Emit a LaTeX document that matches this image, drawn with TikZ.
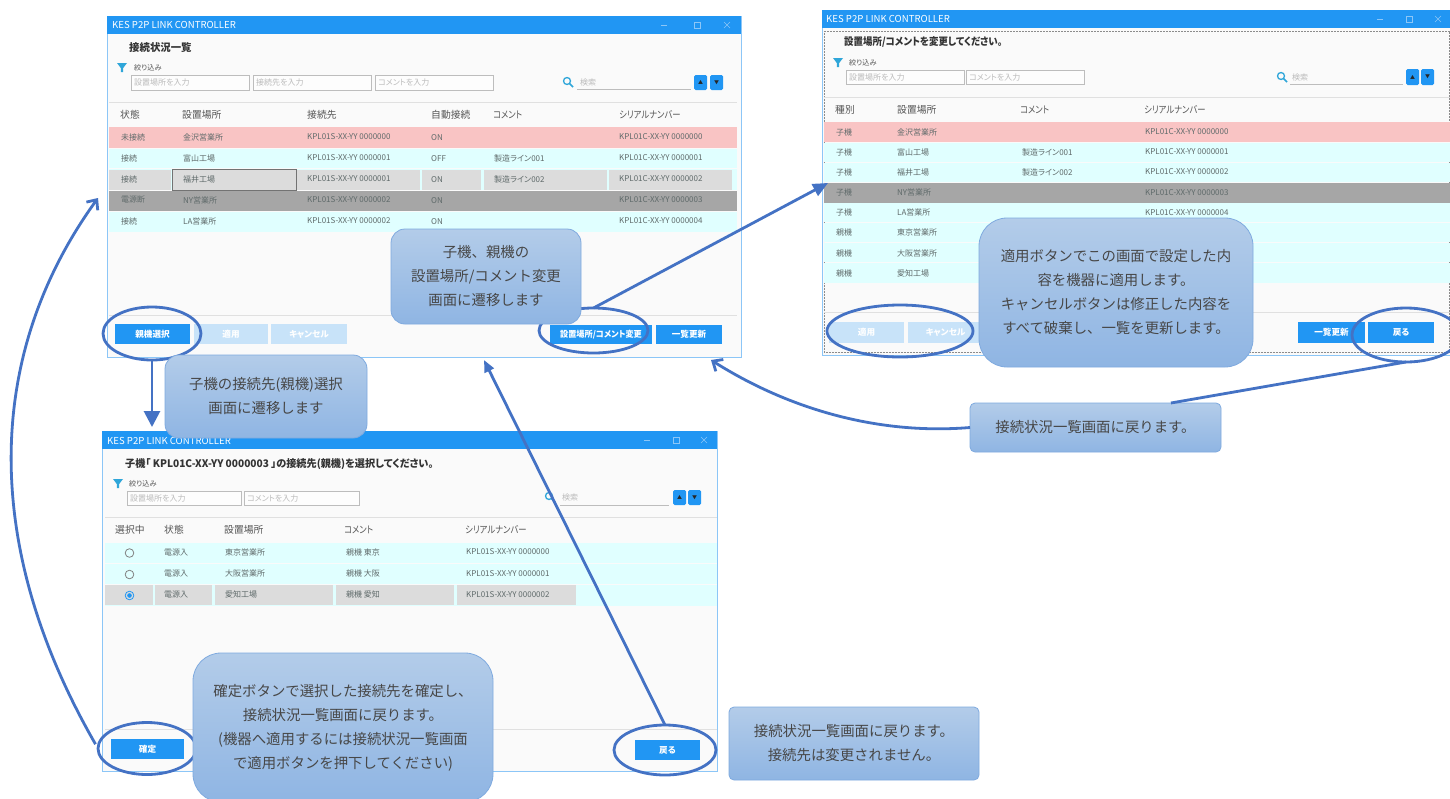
\documentclass[tikz,border=0pt]{standalone}
\usepackage{fontspec}
\setmainfont{Noto Sans CJK JP}
\newfontfamily\uif[RawFeature=+palt]{Noto Sans CJK JP}
\usetikzlibrary{shapes.geometric,arrows.meta}
\definecolor{barblue}{HTML}{2196F3}
\definecolor{winedge}{HTML}{8CC6F7}
\definecolor{winbg}{HTML}{FAFAFA}
\definecolor{rowred}{HTML}{F9C4C4}
\definecolor{rowcyan}{HTML}{E0FFFF}
\definecolor{rowgray}{HTML}{A6A6A6}
\definecolor{cellgray}{HTML}{DCDCDC}
\definecolor{disbtn}{HTML}{C8E3F9}
\definecolor{linkblue}{HTML}{4472C4}
\definecolor{calltop}{HTML}{B3CCE9}
\definecolor{callbot}{HTML}{8FB5E3}
\definecolor{calledge}{HTML}{7FAADF}
\definecolor{txtgray}{HTML}{5F6A6A}
\definecolor{hdrgray}{HTML}{555555}
\definecolor{hintgray}{HTML}{BBBBBB}
\definecolor{inputedge}{HTML}{BDBDBD}
\definecolor{iconblue}{HTML}{2FA6D9}
\newcounter{tn}
\newcommand{\kn}[1]{\scalebox{.85}[1]{#1}}
\newcommand{\tx}[4][celltext]{\stepcounter{tn}\node[#1,anchor=west] (t\arabic{tn}) at ({#2},{#3}) {#4};}
\newcommand{\btn}[6][btnon]{\stepcounter{tn}\node[#1,minimum width={(#4-#2)*1pt},minimum height={(#5-#3)*1pt}] (b\arabic{tn}) at ({(#2+#4)/2},{(#3+#5)/2}) {#6};}
\newcommand{\inp}[5]{\stepcounter{tn}\node[inputbox,minimum width={(#3-#1)*1pt},minimum height={(#4-#2)*1pt}] (i\arabic{tn}) at ({(#1+#3)/2},{(#2+#4)/2}) {};\tx[hinttext]{#1+3}{(#2+#4)/2}{#5}}
\newcommand{\wctl}[3]{\draw[ctl] (#1-3,#3) -- (#1+3,#3);\draw[ctl] (#2-3,#3-3) rectangle (#2+3,#3+3);}
\newcommand{\wclose}[2]{\draw[ctl] (#1-3,#2-3) -- (#1+3,#2+3) (#1-3,#2+3) -- (#1+3,#2-3);}
\newcommand{\funnel}[2]{\fill[iconblue] (#1-5,#2-4) -- (#1+5,#2-4) -- (#1+1.2,#2+1) -- (#1+1.2,#2+5) -- (#1-1.2,#2+5) -- (#1-1.2,#2+1) -- cycle;}
\newcommand{\lens}[2]{\draw[iconblue,line width=1.3pt] (#1-1,#2-1) circle[radius=3.5];\draw[iconblue,line width=1.6pt] (#1+1.6,#2+1.6) -- (#1+5,#2+5);}
\newcommand{\updown}[4]{\btn[btnsmall]{#1}{#3}{#1+13}{#4}{▲}\btn[btnsmall]{#2}{#3}{#2+13}{#4}{▼}}
\tikzset{
  x=1pt,y=-1pt,
  winbox/.style={draw=winedge,fill=winbg,line width=0.9pt,inner sep=0,outer sep=0},
  celltext/.style={font=\uif\fontsize{8}{9}\selectfont,text=txtgray,inner sep=0},
  hdrtext/.style={font=\uif\fontsize{9.8}{11}\selectfont,text=hdrgray,inner sep=0},
  hinttext/.style={font=\uif\fontsize{8}{9}\selectfont,text=hintgray,inner sep=0},
  smalltext/.style={font=\uif\fontsize{7.2}{9}\selectfont,text=hdrgray,inner sep=0},
  titletext/.style={font=\uif\fontsize{10.4}{12}\selectfont\bfseries,text=black!80,inner sep=0},
  bartext/.style={font=\fontsize{9.6}{10}\selectfont,text=white,inner sep=0},
  btnon/.style={fill=barblue,text=white,font=\uif\fontsize{8.6}{9}\selectfont\bfseries,inner sep=0,outer sep=0},
  btnoff/.style={fill=disbtn,text=white,font=\uif\fontsize{8.6}{9}\selectfont\bfseries,inner sep=0,outer sep=0},
  btnsmall/.style={fill=barblue,text=black!85,rounded corners=1.5pt,font=\fontsize{5}{5}\selectfont,inner sep=0,outer sep=0},
  inputbox/.style={draw=inputedge,line width=0.9pt,fill=white!60!winbg,inner sep=0,outer sep=0},
  ctl/.style={draw=winedge,line width=0.6pt},
  sep/.style={draw=black!12,line width=1pt},
  ring/.style={ellipse,draw=linkblue,line width=2.8pt,inner sep=0,outer sep=0,fill=none},
  link/.style={draw=linkblue,line width=2.8pt},
  solidhead/.style={link,-{Triangle[length=#1,width=#1]}},
  openhead/.style={link,-{Straight Barb[length=8pt,width=14pt]}},
  callout/.style={draw=calledge,line width=0.8pt,top color=calltop,bottom color=callbot,align=center,inner sep=0,outer sep=0,text=black!72,font=\fontsize{14.4}{24}\selectfont},
}
\begin{document}
\begin{tikzpicture}
\useasboundingbox (0,0) rectangle (1450,798);
\clip (0,0) rectangle (1450,798);
\fill[white] (0,0) rectangle (1450,798);
% ===== window 1 =====
\node[winbox,minimum width=634pt,minimum height=341pt] (w1) at (424,186.5) {};
\fill[barblue] (107,16) rectangle (741,34);
\tx[bartext]{112}{25}{KES P2P LINK CONTROLLER}
\wctl{664}{697}{25}\wclose{727}{25}
\tx[titletext]{129}{48}{接続状況一覧}
\funnel{122}{67}
\tx[smalltext]{134}{68}{絞り込み}
\inp{131}{75}{249}{90}{設置場所を入力}
\inp{253}{75}{371}{90}{接続先を入力}
\inp{375}{75}{493}{90}{コメントを入力}
\lens{568}{82}
\tx[hinttext]{580}{82}{検索}
\draw[inputedge,line width=0.9pt] (577,89.5) -- (691,89.5);
\updown{694}{710}{75}{90}
\draw[sep] (109,102) -- (737,102);
\tx[hdrtext]{120}{114.5}{状態}\tx[hdrtext]{182}{114.5}{設置場所}\tx[hdrtext]{307}{114.5}{接続先}\tx[hdrtext]{431}{114.5}{自動接続}\tx[hdrtext]{493}{114.5}{\kn{コメント}}\tx[hdrtext]{619}{114.5}{\kn{シリアルナンバー}}
\fill[rowred] (109,127) rectangle (737,148);
\fill[rowcyan] (109,149) rectangle (737,168);
\fill[rowcyan] (109,169) rectangle (737,190);
\fill[rowgray] (109,191) rectangle (737,211);
\fill[rowcyan] (109,212) rectangle (737,232);
\fill[cellgray] (109,170) rectangle (171,190);
\fill[cellgray] (172,170) rectangle (296,190);
\draw[black!55,line width=0.7pt] (172,169.5) rectangle (296,190);
\fill[cellgray] (297,170) rectangle (420,190);
\fill[cellgray] (422,170) rectangle (481,190);
\fill[cellgray] (484,170) rectangle (607,190);
\fill[cellgray] (609,170) rectangle (732,190);
\tx{121}{137}{未接続}\tx{183}{137}{金沢営業所}\tx{307}{137}{KPL01S-XX-YY 0000000}\tx{431}{137.5}{ON}\tx{619}{137}{KPL01C-XX-YY 0000000}
\tx{121}{158}{接続}\tx{183}{158}{富山工場}\tx{307}{158}{KPL01S-XX-YY 0000001}\tx{431}{158.5}{OFF}\tx{494}{158}{製造ライン001}\tx{619}{158}{KPL01C-XX-YY 0000001}
\tx{121}{179}{接続}\tx{183}{179}{福井工場}\tx{307}{179}{KPL01S-XX-YY 0000001}\tx{431}{179.5}{ON}\tx{494}{179}{製造ライン002}\tx{619}{179}{KPL01C-XX-YY 0000002}
\tx{121}{200}{電源断}\tx{183}{200}{NY営業所}\tx{307}{200}{KPL01S-XX-YY 0000002}\tx{431}{200.5}{ON}\tx{619}{200}{KPL01C-XX-YY 0000003}
\tx{121}{221}{接続}\tx{183}{221}{LA営業所}\tx{307}{221}{KPL01S-XX-YY 0000002}\tx{431}{221.5}{ON}\tx{619}{221}{KPL01C-XX-YY 0000004}
\draw[sep] (109,315) -- (737,315);
\btn{115}{324}{190}{344}{親機選択}
\btn[btnoff]{194}{324}{268}{344}{適用}
\btn[btnoff]{271}{324}{347}{344}{キャンセル}
\btn{550}{325}{652}{344}{\scalebox{.95}[1]{設置場所/コメント変更}}
\btn{656}{325}{722}{344}{一覧更新}
% ===== window 2 =====
\node[winbox,minimum width=628pt,minimum height=345pt] (w2) at (1136,182.5) {};
\fill[barblue] (822,10) rectangle (1450,28);
\tx[bartext]{826}{18.5}{KES P2P LINK CONTROLLER}
\wctl{1380}{1409}{19}\wclose{1438}{19}
\draw[black!45,line width=0.5pt,densely dotted] (824,31) rectangle (1449.5,352);
\tx[titletext]{844}{42.5}{\scalebox{.91}[1]{設置場所/コメントを変更してください。}}
\funnel{838}{62}
\tx[smalltext]{849}{62.5}{絞り込み}
\inp{846}{70}{964}{84.5}{設置場所を入力}
\inp{966}{70}{1084}{84.5}{コメントを入力}
\lens{1282}{77}
\tx[hinttext]{1292}{77}{検索}
\draw[inputedge,line width=0.9pt] (1290,84.5) -- (1403,84.5);
\updown{1406}{1421}{69}{85}
\draw[sep] (824,97) -- (1450,97);
\tx[hdrtext]{835}{110}{種別}\tx[hdrtext]{897}{110}{設置場所}\tx[hdrtext]{1020}{110}{\kn{コメント}}\tx[hdrtext]{1144}{110}{\kn{シリアルナンバー}}
\fill[rowred] (824,122) rectangle (1450,142);
\fill[rowcyan] (824,143) rectangle (1450,162);
\fill[rowcyan] (824,163) rectangle (1450,182);
\fill[rowgray] (824,183) rectangle (1450,202.5);
\fill[rowcyan] (824,203) rectangle (1450,222);
\fill[rowcyan] (824,223) rectangle (1450,242);
\fill[rowcyan] (824,243) rectangle (1450,262);
\fill[rowcyan] (824,263) rectangle (1450,283);
\tx{836}{132}{子機}\tx{897}{132}{金沢営業所}\tx{1145}{132}{KPL01C-XX-YY 0000000}
\tx{836}{152}{子機}\tx{897}{152}{富山工場}\tx{1022}{152}{製造ライン001}\tx{1145}{152}{KPL01C-XX-YY 0000001}
\tx{836}{172}{子機}\tx{897}{172}{福井工場}\tx{1022}{172}{製造ライン002}\tx{1145}{172}{KPL01C-XX-YY 0000002}
\tx{836}{192.5}{子機}\tx{897}{192.5}{NY営業所}\tx{1145}{192.5}{KPL01C-XX-YY 0000003}
\tx{836}{212.5}{子機}\tx{897}{212.5}{LA営業所}\tx{1145}{212.5}{KPL01C-XX-YY 0000004}
\tx{836}{232.5}{親機}\tx{897}{232.5}{東京営業所}
\tx{836}{253}{親機}\tx{897}{253}{大阪営業所}
\tx{836}{273}{親機}\tx{897}{273}{愛知工場}
\draw[sep] (824,312) -- (1450,312);
\btn[btnoff]{829}{322}{904}{343}{適用}
\btn[btnoff]{908}{322}{983}{343}{キャンセル}
\btn{1298}{322}{1365}{343}{一覧更新}
\btn{1368}{322}{1434}{343}{戻る}
% ===== window 3 =====
\node[winbox,minimum width=615pt,minimum height=340pt] (w3) at (409.5,601) {};
\fill[barblue] (102,431) rectangle (717,449);
\tx[bartext]{107}{440.5}{KES P2P LINK CONTROLLER}
\wctl{647}{676}{440}\wclose{704}{440}
\tx[titletext]{125}{464}{\scalebox{.975}[1]{子機「 KPL01C-XX-YY 0000003 」の接続先(親機)を選択してください。}}
\funnel{118}{483}
\tx[smalltext]{129}{483.5}{絞り込み}
\inp{127}{491}{241}{505}{設置場所を入力}
\inp{244}{491}{359}{505}{コメントを入力}
\lens{550}{497}
\tx[hinttext]{562}{497}{検索}
\draw[inputedge,line width=0.9pt] (560,505) -- (669,505);
\updown{673}{688}{490}{505}
\draw[sep] (105,517) -- (717,517);
\tx[hdrtext]{115}{530}{選択中}\tx[hdrtext]{164}{530}{状態}\tx[hdrtext]{224}{530}{設置場所}\tx[hdrtext]{344}{530}{\kn{コメント}}\tx[hdrtext]{465}{530}{\kn{シリアルナンバー}}
\fill[rowcyan] (105,543) rectangle (717,563);
\fill[rowcyan] (105,564) rectangle (717,584);
\fill[rowcyan] (105,585) rectangle (717,606);
\fill[cellgray] (105,585) rectangle (153,605);
\fill[cellgray] (155,585) rectangle (212,605);
\fill[cellgray] (215,585) rectangle (333,605);
\fill[cellgray] (336,585) rectangle (454,605);
\fill[cellgray] (457,585) rectangle (576,605);
\draw[black!50,line width=0.8pt] (129.5,553) circle[radius=4.3];
\draw[black!50,line width=0.8pt] (129.5,574.5) circle[radius=4.3];
\draw[barblue,line width=0.8pt] (129.5,595.5) circle[radius=4.3];
\fill[barblue] (129.5,595.5) circle[radius=2.3];
\tx{164}{552}{電源入}\tx{225}{552}{東京営業所}\tx{346}{552}{親機 東京}\tx{466}{552}{KPL01S-XX-YY 0000000}
\tx{164}{573.5}{電源入}\tx{225}{573.5}{大阪営業所}\tx{346}{573.5}{親機 大阪}\tx{466}{573.5}{KPL01S-XX-YY 0000001}
\tx{164}{594.5}{電源入}\tx{225}{594.5}{愛知工場}\tx{346}{594.5}{親機 愛知}\tx{466}{594.5}{KPL01S-XX-YY 0000002}
\draw[sep] (105,729) -- (717,729);
\btn{111}{739}{184}{759}{確定}
\btn{635}{740}{700}{760}{戻る}
% ===== highlight rings =====
\node[ring,minimum width=98pt,minimum height=53pt] (eParent) at (152,333.5) {};
\node[ring,minimum width=109pt,minimum height=45pt] (eChange) at (593.5,330.5) {};
\node[ring,minimum width=146pt,minimum height=52pt] (eApply) at (900,331) {};
\node[ring,minimum width=108pt,minimum height=54pt] (eBack2) at (1406,335) {};
\node[ring,minimum width=98pt,minimum height=52pt] (eConfirm) at (147,748.5) {};
\node[ring,minimum width=102pt,minimum height=50pt] (eBack3) at (665,750) {};
% ===== callouts =====
\node[callout,rounded corners=14pt,minimum width=190pt,minimum height=95pt] (cA) at (486,276.5) {子機、親機の\\設置場所/コメント変更\\画面に遷移します};
\node[callout,rounded corners=14pt,minimum width=202pt,minimum height=83pt] (cB) at (266,396.5) {子機の接続先(親機)選択\\画面に遷移します};
\node[callout,rounded corners=28pt,minimum width=274pt,minimum height=149pt] (cC) at (1116,292.5) {適用ボタンでこの画面で設定した内\\容を機器に適用します。\\キャンセルボタンは修正した内容を\\すべて破棄し、一覧を更新します。};
\node[callout,rounded corners=5pt,minimum width=251pt,minimum height=49pt] (cD) at (1095.5,427.5) {接続状況一覧画面に戻ります。};
\node[callout,rounded corners=28pt,minimum width=300pt,minimum height=149pt] (cE) at (343,727.5) {確定ボタンで選択した接続先を確定し、\\接続状況一覧画面に戻ります。\\(機器へ適用するには接続状況一覧画面\\で適用ボタンを押下してください)};
\node[callout,rounded corners=5pt,minimum width=250pt,minimum height=73pt] (cF) at (854,743.5) {接続状況一覧画面に戻ります。\\接続先は変更されません。};
% ===== connector free ends =====
\coordinate (tipLeft) at (98,198);
\coordinate (tipBottom) at (484,360);
\coordinate (tipRight) at (711,360);
\coordinate (tipSide) at (828,183);
\coordinate (tipDown) at (152,427);
% ===== connectors =====
\draw[solidhead=16pt] (eParent.south) -- (tipDown);
\draw[link,-{Triangle[length=15pt,width=13pt]}] (eChange.north) -- (tipSide);
\draw[link,-{Triangle[length=12pt,width=10pt]}] (eBack3.north) -- (tipBottom);
\draw[openhead,shorten <=5pt] (eConfirm.west) .. controls (-22,540) and (-12,350) .. (tipLeft);
\draw[link] (eBack2.south) -- (cD.18.2);
\draw[openhead] (cD.west) .. controls (880,435) and (790,410) .. (tipRight);
\end{tikzpicture}
\end{document}
